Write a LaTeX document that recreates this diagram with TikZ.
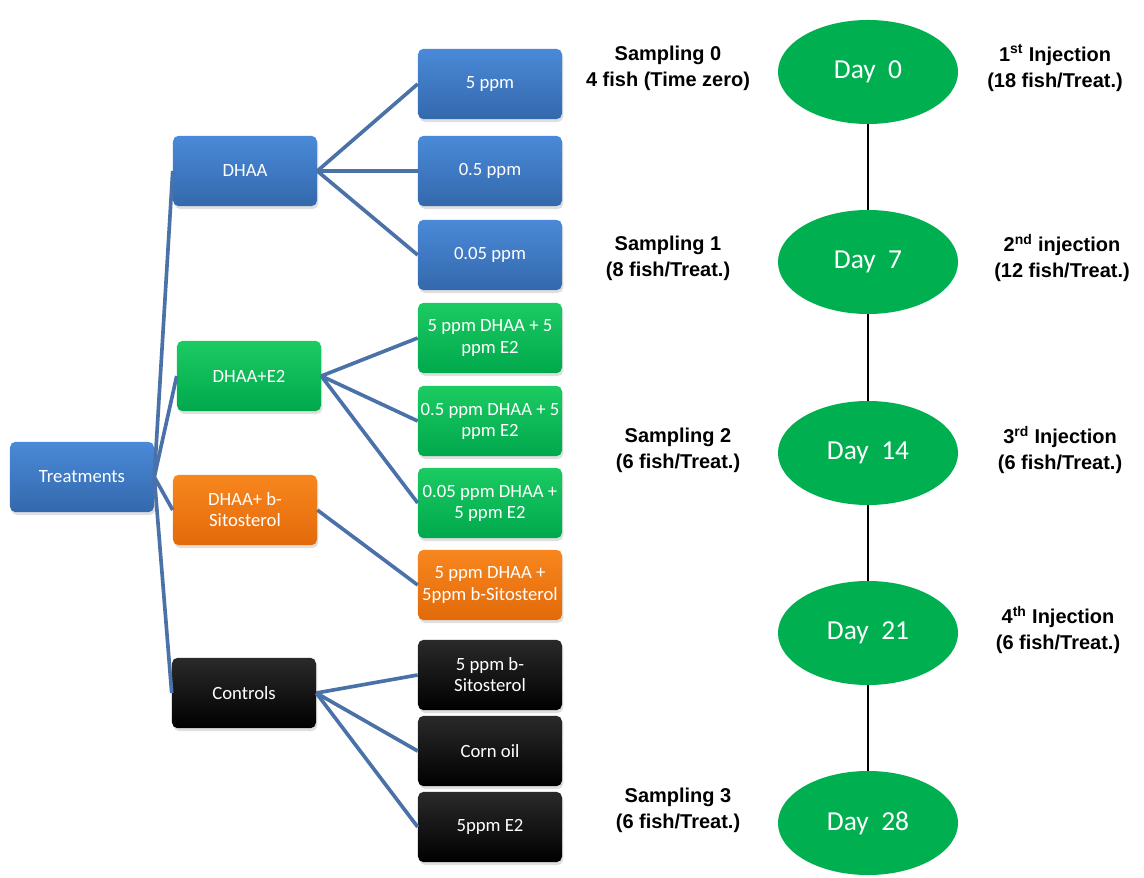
\documentclass[tikz,border=0pt]{standalone}
\usepackage{fontspec}
\setmainfont{Carlito}
\newfontfamily\notefont{Liberation Sans}
\usetikzlibrary{shapes.geometric, shadows}

\definecolor{blueTop}{HTML}{4A8AD8}
\definecolor{blueBot}{HTML}{3468AC}
\definecolor{greenTop}{HTML}{1CCB62}
\definecolor{greenBot}{HTML}{00A84C}
\definecolor{orangeTop}{HTML}{F8861E}
\definecolor{orangeBot}{HTML}{E26A0A}
\definecolor{blackTop}{HTML}{2A2A2A}
\definecolor{blackBot}{HTML}{000000}
\definecolor{linkblue}{HTML}{4A72A8}
\definecolor{daygreen}{HTML}{00B050}

\begin{document}
\begin{tikzpicture}[x=0.025cm, y=-0.025cm,
	box/.style={rounded corners=4pt, minimum width=3.6cm, minimum height=1.76cm, inner sep=1pt,
		text=white, align=center, font=\fontsize{13.3}{15}\selectfont,
		drop shadow={opacity=0.25, shadow xshift=1pt, shadow yshift=-2pt}},
	bluebox/.style={box, top color=blueTop, bottom color=blueBot},
	greenbox/.style={box, top color=greenTop, bottom color=greenBot},
	orangebox/.style={box, top color=orangeTop, bottom color=orangeBot},
	blackbox/.style={box, top color=blackTop, bottom color=blackBot},
	link/.style={draw=linkblue, line width=2.6pt},
	day/.style={ellipse, fill=daygreen, minimum width=4.5cm, minimum height=2.6cm, inner sep=0pt,
		text=white, font=\fontsize{19.5}{22}\selectfont},
	note/.style={align=center, font=\notefont\bfseries\fontsize{14.2}{18.4}\selectfont}]
	\useasboundingbox (0,0) rectangle (1144,878);

	% Treatment groups
	\node[bluebox] (treat) at (82,477) {Treatments};
	\node[bluebox] (dhaa) at (245,171) {DHAA};
	\node[greenbox] (dhaae) at (249,376) {DHAA+E2};
	\node[orangebox] (dhaab) at (245,510) {DHAA+ b-\\Sitosterol};
	\node[blackbox] (ctrl) at (244,693) {Controls};

	% Doses
	\node[bluebox] (d5) at (490,84) {5 ppm};
	\node[bluebox] (d05) at (490,171) {0.5 ppm};
	\node[bluebox] (d005) at (490,255) {0.05 ppm};
	\node[greenbox] (e5) at (490,338) {5 ppm DHAA + 5\\ppm E2};
	\node[greenbox] (e05) at (490,421) {0.5 ppm DHAA + 5\\ppm E2};
	\node[greenbox] (e005) at (490,503) {0.05 ppm DHAA +\\5 ppm E2};
	\node[orangebox] (b5) at (490,585) {5 ppm DHAA +\\5ppm b-Sitosterol};
	\node[blackbox] (cb) at (490,675) {5 ppm b-\\Sitosterol};
	\node[blackbox] (co) at (490,751) {Corn oil};
	\node[blackbox] (ce) at (490,827) {5ppm E2};

	% Connectors
	\foreach \a/\b in {treat/dhaa, treat/dhaae, treat/dhaab, treat/ctrl,
		dhaa/d5, dhaa/d05, dhaa/d005, dhaae/e5, dhaae/e05, dhaae/e005,
		dhaab/b5, ctrl/cb, ctrl/co, ctrl/ce}
		\draw[link] (\a.east) -- (\b.west);

	% Timeline
	\node[day] (t0) at (868,72) {Day~~0};
	\node[day] (t7) at (868,262) {Day~~7};
	\node[day] (t14) at (868,453) {Day~~14};
	\node[day] (t21) at (868,633) {Day~~21};
	\node[day] (t28) at (868,823) {Day~~28};
	\foreach \a/\b in {t0/t7, t7/t14, t14/t21, t21/t28}
		\draw[black, line width=1.6pt] (\a) -- (\b);

	% Sampling notes
	\node[note] (s0) at (668,68) {Sampling 0\\4 fish (Time zero)};
	\node[note] (s1) at (668,258) {Sampling 1\\(8 fish/Treat.)};
	\node[note] (s2) at (678,450) {Sampling 2\\(6 fish/Treat.)};
	\node[note] (s3) at (678,810) {Sampling 3\\(6 fish/Treat.)};

	% Injection notes
	\node[note] (i1) at (1055,68) {1\textsuperscript{st} Injection\\(18 fish/Treat.)};
	\node[note] (i2) at (1062,258) {2\textsuperscript{nd} injection\\(12 fish/Treat.)};
	\node[note] (i3) at (1060,450) {3\textsuperscript{rd} Injection\\(6 fish/Treat.)};
	\node[note] (i4) at (1058,630) {4\textsuperscript{th} Injection\\(6 fish/Treat.)};
\end{tikzpicture}
\end{document}
